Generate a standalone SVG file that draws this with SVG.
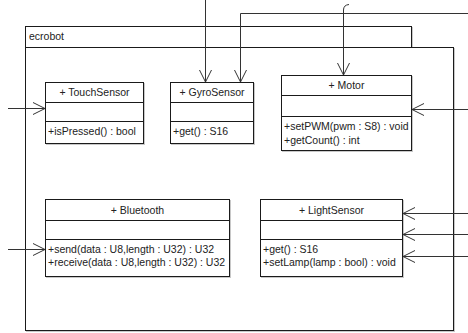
<svg xmlns="http://www.w3.org/2000/svg" width="468" height="333" viewBox="0 0 468 333">
<style>
.box{fill:#fff;stroke:#1a1a1a;stroke-width:1}
.sh{fill:none;stroke:#c8c8c8;stroke-width:1}
.sep{stroke:#1a1a1a;stroke-width:1}
.t{font-family:"Liberation Sans",Arial,sans-serif;font-size:10.5px;fill:#222}
.c{text-anchor:middle}
.con{fill:none;stroke:#333;stroke-width:1}
</style>
<defs>
<marker id="open" markerUnits="userSpaceOnUse" markerWidth="16" markerHeight="16" viewBox="-14 -8 16 16" refX="0" refY="0" orient="auto">
<path d="M-12,-6 L0,0 L-12,6" fill="none" stroke="#333" stroke-width="1"/>
</marker>
</defs>
<rect width="468" height="333" fill="#fff"/>
<g id="ecrobot">
<rect class="sh" x="26.5" y="27.5" width="386" height="21"/>
<rect class="box" x="25.5" y="26.5" width="386" height="21"/>
<text class="t" x="29" y="40">ecrobot</text>
<rect class="sh" x="26.5" y="48.5" width="428" height="283"/>
<rect class="box" x="25.5" y="47.5" width="428" height="283"/>
</g>
<g id="TouchSensor">
<rect class="sh" x="46.5" y="83.5" width="98" height="61"/>
<rect class="box" x="45.5" y="82.5" width="98" height="61"/>
<line class="sep" x1="45.5" y1="102.5" x2="143.5" y2="102.5"/>
<line class="sep" x1="45.5" y1="121.5" x2="143.5" y2="121.5"/>
<text class="t c" x="94.5" y="96">+ TouchSensor</text>
<text class="t" x="48" y="135">+isPressed() : bool</text>
</g>
<g id="GyroSensor">
<rect class="sh" x="171.5" y="83.5" width="83" height="61"/>
<rect class="box" x="170.5" y="82.5" width="83" height="61"/>
<line class="sep" x1="170.5" y1="102.5" x2="253.5" y2="102.5"/>
<line class="sep" x1="170.5" y1="121.5" x2="253.5" y2="121.5"/>
<text class="t c" x="212" y="96">+ GyroSensor</text>
<text class="t" x="173" y="135">+get() : S16</text>
</g>
<g id="Motor">
<rect class="sh" x="282.5" y="76.5" width="130" height="75"/>
<rect class="box" x="281.5" y="75.5" width="130" height="75"/>
<line class="sep" x1="281.5" y1="95.5" x2="411.5" y2="95.5"/>
<line class="sep" x1="281.5" y1="116.5" x2="411.5" y2="116.5"/>
<text class="t c" x="346.5" y="89">+ Motor</text>
<text class="t" x="284" y="130">+setPWM(pwm : S8) : void</text>
<text class="t" x="284" y="144">+getCount() : int</text>
</g>
<g id="Bluetooth">
<rect class="sh" x="46.5" y="200.5" width="184" height="77"/>
<rect class="box" x="45.5" y="199.5" width="184" height="77"/>
<line class="sep" x1="45.5" y1="220.5" x2="229.5" y2="220.5"/>
<line class="sep" x1="45.5" y1="239.5" x2="229.5" y2="239.5"/>
<text class="t c" x="137.5" y="214">+ Bluetooth</text>
<text class="t" x="48" y="253">+send(data : U8,length : U32) : U32</text>
<text class="t" x="48" y="266">+receive(data : U8,length : U32) : U32</text>
</g>
<g id="LightSensor">
<rect class="sh" x="261.5" y="200.5" width="142" height="77"/>
<rect class="box" x="260.5" y="199.5" width="142" height="77"/>
<line class="sep" x1="260.5" y1="220.5" x2="402.5" y2="220.5"/>
<line class="sep" x1="260.5" y1="239.5" x2="402.5" y2="239.5"/>
<text class="t c" x="331.5" y="214">+ LightSensor</text>
<text class="t" x="263" y="253">+get() : S16</text>
<text class="t" x="263" y="266">+setLamp(lamp : bool) : void</text>
</g>
<g id="connectors">
<path class="con" d="M205.5,0 L205.5,82" marker-end="url(#open)"/>
<path class="con" d="M468,13.5 L240.5,13.5 L240.5,82" marker-end="url(#open)"/>
<path class="con" d="M349,4.5 Q343.5,5 343.5,10 L343.5,75" marker-end="url(#open)"/>
<path class="con" d="M8,108.5 L45,108.5" marker-end="url(#open)"/>
<path class="con" d="M468,109.5 L412,109.5" marker-end="url(#open)"/>
<path class="con" d="M8,249.5 L45,249.5" marker-end="url(#open)"/>
<path class="con" d="M468,213.5 L403,213.5" marker-end="url(#open)"/>
<path class="con" d="M468,234.5 L403,234.5" marker-end="url(#open)"/>
<path class="con" d="M468,256.5 L403,256.5" marker-end="url(#open)"/>
</g>
</svg>
